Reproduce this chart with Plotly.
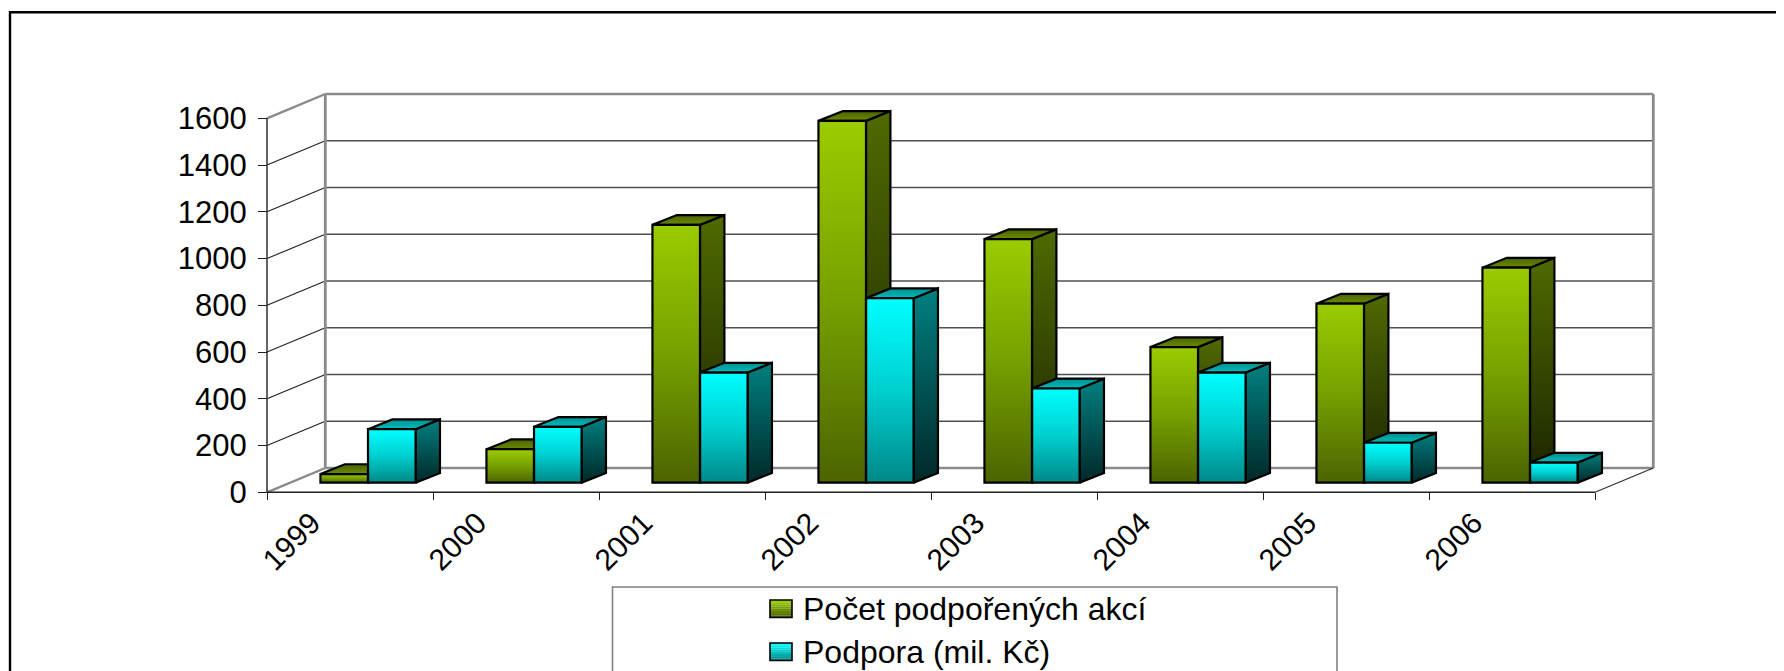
import plotly.graph_objects as go

# ---------------- data ----------------
years = ['1999', '2000', '2001', '2002', '2003', '2004', '2005', '2006']
akce = [37, 143, 1103, 1548, 1042, 580, 766, 920]          # Počet podpořených akcí
podpora = [229, 239, 471, 789, 403, 471, 171, 86]          # Podpora (mil. Kč)
series_names = ['Počet podpořených akcí', 'Podpora (mil. Kč)']
y_ticks = [0, 200, 400, 600, 800, 1000, 1200, 1400, 1600]

# ---------------- geometry (page pixels -> axis units) ----------------
OFF = 8                              # default body margin of the page
W_FIG, H_FIG = 1784 - OFF, 671 - OFF
PL, PR, PT, PB = 257, 1662, 90, 495  # plot area in page px
ML, MT = PL - OFF, PT - OFF
MR = W_FIG - (PR - OFF)
MB = H_FIG - (PB - OFF)
X0PX, Y0PX = 267.0, 492.3            # front-left floor corner (page px)
PXX = 166.0                          # px per category
PXY = 46.75 / 200.0                  # px per value unit


def ux(px):
    return (px - X0PX) / PXX


def uy(py):
    return (Y0PX - py) / PXY


XR = [ux(PL), ux(PR)]
YR = [uy(PB), uy(PT)]
PW = PR - PL
PH = PB - PT


def ppx(px):
    return (px - PL) / PW


def ppy(py):
    return (PB - py) / PH


DEPTH_X = 58.3 / PXX
DEPTH_Y = 24.3 / PXY
BAR_W = 0.2865
BAR_OFF = [0.322, 0.6085]
BAR_BASE = 9.6 / PXY
SIDE_X = 24.4 / PXX
SIDE_Y = 9.8 / PXY
NCAT = len(years)
YMAX = y_ticks[-1]

styles = [
    dict(front=[[0, '#4B6400'], [0.5, '#76A000'], [1, '#9ACC00']],
         side=[[0, '#1A2300'], [1, '#4F6A00']],
         top=[[0, '#6A8C00'], [1, '#4A6200']],
         sw=['#4B6400', '#9ACC00']),
    dict(front=[[0, '#008888'], [0.5, '#00CFCF'], [1, '#00FFFF']],
         side=[[0, '#002828'], [1, '#008080']],
         top=[[0, '#00BDBD'], [1, '#008E8E']],
         sw=['#008888', '#00FFFF']),
]

fig = go.Figure()


def poly(xs, ys, cs, lw):
    return go.Scatter(x=xs + [xs[0]], y=ys + [ys[0]], mode='lines', fill='toself',
                      fillgradient=dict(type='vertical', colorscale=cs),
                      line=dict(color='black', width=lw), hoverinfo='skip',
                      showlegend=False, xaxis='x', yaxis='y')


series = [akce, podpora]
for i in range(NCAT):
    for s, vals in enumerate(series):
        v = vals[i]
        st = styles[s]
        xl = i + BAR_OFF[s]
        xr = xl + BAR_W
        b = BAR_BASE
        t = BAR_BASE + v
        fig.add_trace(poly([xr, xr + SIDE_X, xr + SIDE_X, xr],
                           [b, b + SIDE_Y, t + SIDE_Y, t], st['side'], 2.2))
        fig.add_trace(poly([xl, xr, xr + SIDE_X, xl + SIDE_X],
                           [t, t, t + SIDE_Y, t + SIDE_Y], st['top'], 2.2))
        fig.add_trace(poly([xl, xr, xr, xl], [b, b, t, t], st['front'], 0))

# real bar traces (front face outlines) on an overlaid subplot
for s, vals in enumerate(series):
    fig.add_trace(go.Bar(
        x=[i + BAR_OFF[s] + BAR_W / 2 for i in range(NCAT)], y=vals, base=BAR_BASE,
        width=BAR_W, name=series_names[s], xaxis='x2', yaxis='y2',
        marker=dict(color='rgba(0,0,0,0)', line=dict(color='black', width=2.2)),
        showlegend=False, customdata=years,
        hovertemplate='%{customdata}: %{y}<extra>' + series_names[s] + '</extra>'))

# ---------------- walls, grid ----------------
shapes = []
GRAY = '#8a8a8a'
GRID = '#505050'


def line(x0, y0, x1, y1, color, width, layer='below'):
    shapes.append(dict(type='line', xref='x', yref='y', x0=x0, y0=y0, x1=x1, y1=y1,
                       line=dict(color=color, width=width), layer=layer))


for v in y_ticks:
    edge = v in (0, YMAX)
    c, w = (GRAY, 2.6) if edge else (GRID, 1.4)
    line(DEPTH_X, v + DEPTH_Y, NCAT + DEPTH_X, v + DEPTH_Y, c, w)
    line(0, v, DEPTH_X, v + DEPTH_Y, c if edge else '#202020', 2.4 if edge else 1.1)
line(DEPTH_X, DEPTH_Y, DEPTH_X, YMAX + DEPTH_Y, GRAY, 2.8)
line(NCAT + DEPTH_X, DEPTH_Y, NCAT + DEPTH_X, YMAX + DEPTH_Y, GRAY, 2.8)
line(NCAT, 0, NCAT + DEPTH_X, DEPTH_Y, '#303030', 1.2)
line(0, 0, NCAT, 0, '#202020', 1.4)
line(0, 0, 0, YMAX, '#303030', 1.5)

# outer frame
shapes.append(dict(type='rect', xref='paper', yref='paper', x0=ppx(10), y0=ppy(12.3),
                   x1=ppx(1810), y1=ppy(720), line=dict(color='black', width=2.4),
                   fillcolor='rgba(0,0,0,0)', layer='below'))

# ---------------- legend (custom) ----------------
shapes.append(dict(type='rect', xref='paper', yref='paper', x0=ppx(612.5), y0=ppy(587),
                   x1=ppx(1337), y1=ppy(720), line=dict(color='#808080', width=1.6),
                   fillcolor='rgba(0,0,0,0)', layer='above'))
leg_rows = [(600.0, 617.5, 608.5), (643.0, 660.5, 652.0)]
annotations = []
NSL = 8
for s, (ya, yb, yc) in enumerate(leg_rows):
    c0, c1 = styles[s]['sw']
    for k in range(NSL):
        f = k / (NSL - 1)
        r = int(int(c1[1:3], 16) * (1 - f) + int(c0[1:3], 16) * f)
        g = int(int(c1[3:5], 16) * (1 - f) + int(c0[3:5], 16) * f)
        bb = int(int(c1[5:7], 16) * (1 - f) + int(c0[5:7], 16) * f)
        y0 = ya + (yb - ya) * k / NSL
        y1 = ya + (yb - ya) * (k + 1) / NSL
        shapes.append(dict(type='rect', xref='paper', yref='paper', x0=ppx(770), x1=ppx(792),
                           y0=ppy(y0), y1=ppy(y1), line=dict(width=0),
                           fillcolor='rgb(%d,%d,%d)' % (r, g, bb), layer='above'))
    shapes.append(dict(type='rect', xref='paper', yref='paper', x0=ppx(770), x1=ppx(792),
                       y0=ppy(ya), y1=ppy(yb), line=dict(color='black', width=1.6),
                       fillcolor='rgba(0,0,0,0)', layer='above'))
    annotations.append(dict(xref='paper', yref='paper', x=ppx(801), y=ppy(yc),
                            text=series_names[s], showarrow=False, xanchor='left',
                            yanchor='middle', font=dict(size=32, color='black')))

# category labels
for i, yr in enumerate(years):
    annotations.append(dict(xref='x', yref='y', x=i + 0.5, y=0, text=yr, showarrow=False,
                            textangle=-45, xanchor='center', yanchor='middle',
                            xshift=-59, yshift=-49, font=dict(size=30, color='black')))

FONT = 'Liberation Sans, Arial, sans-serif'
fig.update_layout(
    width=W_FIG, height=H_FIG,
    margin=dict(l=ML, r=MR, t=MT, b=MB, pad=0),
    paper_bgcolor='white', plot_bgcolor='rgba(0,0,0,0)',
    font=dict(family=FONT, color='black'),
    barmode='overlay', showlegend=False,
    shapes=shapes, annotations=annotations,
    xaxis=dict(range=XR, anchor='free', position=ppy(Y0PX), showgrid=False, zeroline=False,
               showline=False, tickmode='array', tickvals=list(range(NCAT + 1)),
               ticks='outside', ticklen=7, tickwidth=1.2, tickcolor='#202020',
               showticklabels=False, fixedrange=True),
    yaxis=dict(range=YR, anchor='free', position=ppx(X0PX), showgrid=False, zeroline=False,
               showline=False, tickmode='array', tickvals=y_ticks,
               ticktext=[str(v) for v in y_ticks], ticks='outside', ticklen=9,
               tickwidth=1.2, tickcolor='#202020', tickfont=dict(size=31, family=FONT),
               ticklabelstandoff=5, fixedrange=True),
    xaxis2=dict(range=XR, overlaying='x', anchor='y2', visible=False, fixedrange=True),
    yaxis2=dict(range=YR, overlaying='y', anchor='x2', visible=False, fixedrange=True),
)

fig.write_html('out.html')
